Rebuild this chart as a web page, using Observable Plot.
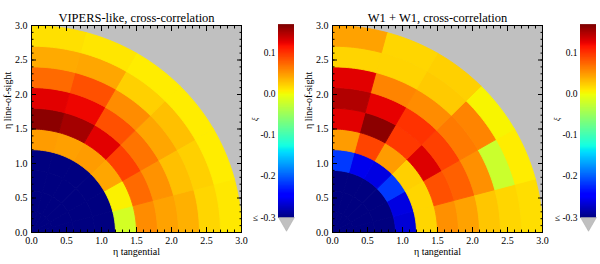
<!DOCTYPE html>
<html><head><meta charset="utf-8">
<script src="https://cdn.jsdelivr.net/npm/d3@7"></script>
<script src="https://cdn.jsdelivr.net/npm/@observablehq/plot@0.6"></script>
<style>
html,body{margin:0;padding:0;background:#fff;}
#chart{position:relative;width:600px;height:264px;overflow:hidden;}
#chart > svg{position:absolute;top:0;font-family:"Liberation Serif",serif !important;}
#chart text{font-family:"Liberation Serif",serif !important;}
</style></head><body><div id="chart"></div>
<script>
// ---------- data ----------
const titles = ["VIPERS-like, cross-correlation", "W1 + W1, cross-correlation"];
const xLabel = "η tangential";
const yLabel = "η line-of-sight";
const cbLabel = "ξ";
// radial bin edges (η) and angular bin edges (degrees from the tangential axis)
const rEdges = [0, 0.3, 0.6, 0.9, 1.2, 1.5, 1.8, 2.1, 2.4, 2.7, 3.0];
const angleEdges = [0, 15, 30, 45, 60, 75, 90];
// values: one row per radial ring (inner → outer), columns = angular bins (tangential → line-of-sight)
const vipersValues = [
  [-0.36, -0.36, -0.36, -0.36, -0.36, -0.36],
  [-0.36, -0.36, -0.36, -0.36, -0.36, -0.36],
  [-0.35, -0.35, -0.35, -0.35, -0.35, -0.35],
  [-0.33, -0.33, -0.33, -0.33, -0.33, -0.33],
  [-0.015, 0.008, 0.045, 0.050, 0.048, 0.050],
  [0.058, 0.075, 0.096, 0.130, 0.155, 0.165],
  [0.047, 0.055, 0.070, 0.088, 0.125, 0.130],
  [0.040, 0.032, 0.045, 0.058, 0.088, 0.075],
  [0.021, 0.024, 0.032, 0.024, 0.045, 0.043],
  [0.012, 0.010, 0.010, 0.010, 0.013, 0.016]
];
const w1Values = [
  [-0.36, -0.36, -0.36, -0.36, -0.36, -0.36],
  [-0.35, -0.35, -0.35, -0.35, -0.35, -0.35],
  [-0.32, -0.32, -0.33, -0.32, -0.32, -0.32],
  [-0.265, -0.260, -0.215, -0.260, -0.255, -0.215],
  [0.021, 0.021, 0.024, 0.050, 0.094, 0.050],
  [0.056, 0.088, 0.132, 0.100, 0.165, 0.130],
  [0.047, 0.080, 0.096, 0.103, 0.128, 0.150],
  [0.029, 0.056, 0.067, 0.058, 0.062, 0.130],
  [0.021, -0.020, 0.062, 0.027, 0.022, 0.022],
  [0.017, 0.010, 0.006, 0.024, 0.021, 0.047]
];
const majorTicks = [0, 0.5, 1, 1.5, 2, 2.5, 3];
const majorTickLabels = ["0.0", "0.5", "1.0", "1.5", "2.0", "2.5", "3.0"];
const minorTicks = [0,0.1,0.2,0.3,0.4,0.5,0.6,0.7,0.8,0.9,1,1.1,1.2,1.3,1.4,1.5,1.6,1.7,1.8,1.9,2,2.1,2.2,2.3,2.4,2.5,2.6,2.7,2.8,2.9,3];
const cbTicks = [0.1, 0, -0.1, -0.2, -0.3];
const cbTickLabels = ["0.1", "0.0", "-0.1", "-0.2", "≤ -0.3"];
const colorDomain = [-0.3, 0.17];
const axisDomain = [0, 3];

// ---------- colour map (matplotlib "jet") ----------
function jet(t) {
  t = Math.max(0, Math.min(1, t));
  const seg = (pts) => {
    for (let i = 1; i < pts.length; i++) {
      if (t <= pts[i][0]) {
        const [x0, y0] = pts[i - 1], [x1, y1] = pts[i];
        return y0 + (y1 - y0) * (t - x0) / (x1 - x0);
      }
    }
    return pts[pts.length - 1][1];
  };
  const r = seg([[0, 0], [0.35, 0], [0.66, 1], [0.89, 1], [1, 0.5]]);
  const g = seg([[0, 0], [0.125, 0], [0.375, 1], [0.64, 1], [0.91, 0], [1, 0]]);
  const b = seg([[0, 0.5], [0.11, 1], [0.34, 1], [0.65, 0], [1, 0]]);
  return `rgb(${Math.round(r * 255)},${Math.round(g * 255)},${Math.round(b * 255)})`;
}
const colorScale = {type: "linear", domain: colorDomain, interpolate: (t) => jet(t), clamp: true};

// ---------- build annular-sector outlines from the bins ----------
function cellOutlines(values) {
  const pts = [];
  values.forEach((row, i) => row.forEach((v, j) => {
    const r0 = rEdges[i], r1 = rEdges[i + 1];
    const a0 = angleEdges[j] * Math.PI / 180, a1 = angleEdges[j + 1] * Math.PI / 180;
    const id = i * 100 + j, n = 14;
    for (let k = 0; k <= n; k++) { const a = a0 + (a1 - a0) * k / n; pts.push({id, v, x: r1 * Math.cos(a), y: r1 * Math.sin(a)}); }
    for (let k = n; k >= 0; k--) { const a = a0 + (a1 - a0) * k / n; pts.push({id, v, x: r0 * Math.cos(a), y: r0 * Math.sin(a)}); }
    pts.push({id, v, x: r1 * Math.cos(a0), y: r1 * Math.sin(a0)});
  }));
  return pts;
}

const fontFamily = '"Liberation Serif", serif';
const fmt = (d) => majorTickLabels[majorTicks.indexOf(d)];
const blank = () => "";

function panel(values, title) {
  return Plot.plot({
    width: 250, height: 264,
    marginTop: 25, marginBottom: 32, marginLeft: 31, marginRight: 9,
    style: {fontFamily, fontSize: "10px", background: "transparent", color: "black"},
    x: {domain: axisDomain},
    y: {domain: axisDomain},
    color: colorScale,
    marks: [
      Plot.frame({fill: "#c0c0c0", stroke: null}),
      Plot.line(cellOutlines(values), {x: "x", y: "y", z: "id", fill: "v", stroke: "v", strokeWidth: 0.9, curve: "linear"}),
      Plot.axisX({ticks: majorTicks, tickSize: 0, tickPadding: 4, tickFormat: fmt, label: null, fontFamily, fontSize: 10}),
      Plot.axisX({ticks: majorTicks, tickSize: -5, tickFormat: blank, label: null}),
      Plot.axisX({ticks: minorTicks, tickSize: -2.5, tickFormat: blank, label: null}),
      Plot.axisX({anchor: "top", ticks: majorTicks, tickSize: -5, tickFormat: blank, label: null}),
      Plot.axisX({anchor: "top", ticks: minorTicks, tickSize: -2.5, tickFormat: blank, label: null}),
      Plot.axisY({ticks: majorTicks, tickSize: 0, tickPadding: 4, tickFormat: fmt, label: null, fontFamily, fontSize: 10}),
      Plot.axisY({ticks: majorTicks, tickSize: -5, tickFormat: blank, label: null}),
      Plot.axisY({ticks: minorTicks, tickSize: -2.5, tickFormat: blank, label: null}),
      Plot.axisY({anchor: "right", ticks: majorTicks, tickSize: -5, tickFormat: blank, label: null}),
      Plot.axisY({anchor: "right", ticks: minorTicks, tickSize: -2.5, tickFormat: blank, label: null}),
      Plot.frame({stroke: "black", strokeWidth: 1}),
      Plot.text([title], {frameAnchor: "top", dy: -4, lineAnchor: "bottom", fontSize: 12.5, fontFamily}),
      Plot.text([xLabel], {frameAnchor: "bottom", dy: 19, lineAnchor: "middle", fontSize: 10, fontFamily}),
      Plot.text([yLabel], {frameAnchor: "left", dx: -24, rotate: -90, lineAnchor: "middle", fontSize: 10, fontFamily})
    ]
  });
}

const cbSamples = d3.range(0, 240).map((i) => colorDomain[0] + (colorDomain[1] - colorDomain[0]) * (i + 0.5) / 240);

function colorbar() {
  return Plot.plot({
    width: 52, height: 264,
    marginTop: 24, marginBottom: 47, marginLeft: 30, marginRight: 6,
    style: {fontFamily, fontSize: "9.5px", background: "transparent", color: "black"},
    x: {axis: null},
    y: {domain: colorDomain, axis: null},
    color: colorScale,
    marks: [
      Plot.ruleY(cbSamples, {y: (d) => d, stroke: (d) => d, strokeWidth: 1.6}),
      Plot.axisY({ticks: cbTicks, tickSize: 0, tickPadding: 3, tickFormat: (d) => cbTickLabels[cbTicks.indexOf(d)], label: null, fontFamily, fontSize: 9.5}),
      Plot.dot([colorDomain[0]], {y: (d) => d, frameAnchor: "middle", symbol: "triangle", rotate: 180, r: 5.9, dy: 4.6, fill: "#c0c0c0", stroke: "#a8a8a8", strokeWidth: 0.5}),
      Plot.text([cbLabel], {frameAnchor: "left", dx: -23, rotate: -90, fontSize: 8, fontStyle: "italic", fontFamily})
    ]
  });
}

const chart = document.getElementById("chart");
const p1 = panel(vipersValues, titles[0]); p1.style.left = "0px";
const c1 = colorbar(); c1.style.left = "248px";
const p2 = panel(w1Values, titles[1]); p2.style.left = "301px";
const c2 = colorbar(); c2.style.left = "550px";
chart.append(p1, c1, p2, c2);
</script></body></html>
